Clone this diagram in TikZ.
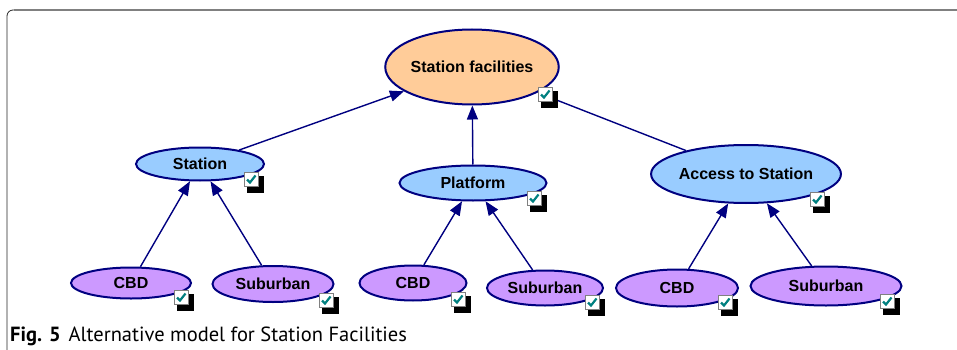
\documentclass[tikz,border=0pt]{standalone}
\usepackage{fontspec}
\setmainfont{Liberation Sans}
\newfontfamily\capfont{PT Sans}
\usetikzlibrary{shapes.geometric,arrows.meta}
\definecolor{navy}{RGB}{0,0,128}
\definecolor{peach}{RGB}{255,204,153}
\definecolor{skyblue}{RGB}{153,204,255}
\definecolor{lilac}{RGB}{204,153,255}
\definecolor{tickgreen}{RGB}{0,128,128}
\tikzset{
  goal/.style={ellipse, draw=navy, line width=2pt, inner sep=0pt,
    font=\fontsize{16}{18}\selectfont\bfseries},
  top/.style={goal, fill=peach},
  crit/.style={goal, fill=skyblue},
  alt/.style={goal, fill=lilac},
  link/.style={navy, line width=1.4pt, -{Triangle[length=14pt,width=11pt]}}
}
% small ticked checkbox with a black shadow, #1 = top left corner
\newcommand{\tickbox}[1]{
  \fill[black] ([shift={(3,4)}]#1) rectangle ++(17,17);
  \filldraw[fill=white, draw=gray, line width=0.6pt] (#1) rectangle ++(14,14);
  \draw[tickgreen, line width=2.2pt] ([shift={(3,7.5)}]#1) -- ++(3,3) -- ++(5.5,-7);
}

\begin{document}
\begin{tikzpicture}[x=1pt,y=-1pt]
\useasboundingbox (0,0) rectangle (957,350);
% frame
\draw[black!85, line width=0.8pt, rounded corners=6pt] (7,352) -- (7,10) -- (20,10);
\draw[gray, line width=1.2pt] (14,10) -- (957,10);

% goal
\node[top, minimum width=160pt, minimum height=75pt] (fac) at (472,67) {Station facilities};
% criteria
\node[crit, minimum width=128pt, minimum height=33pt] (stn) at (200,164) {Station};
\node[crit, minimum width=147pt, minimum height=35pt] (plat) at (473,183) {Platform};
\node[crit, minimum width=176pt, minimum height=58pt] (acc) at (746,174) {Access to Station};
% alternatives
\node[alt, minimum width=120pt, minimum height=31pt] (cbda) at (131,283) {CBD};
\node[alt, minimum width=121pt, minimum height=36pt] (suba) at (273,284) {Suburban};
\node[alt, minimum width=107pt, minimum height=35pt] (cbdb) at (413,283) {CBD};
\node[alt, minimum width=116pt, minimum height=35pt] (subb) at (545,288) {Suburban};
\node[alt, minimum width=122pt, minimum height=37pt] (cbdc) at (677,288) {CBD};
\node[alt, minimum width=151pt, minimum height=39pt] (subc) at (826,286) {Suburban};

% connectors
\draw[link] (stn) -- (fac);
\draw[link] (plat) -- (fac);
\draw[link] (acc) -- (fac);
\draw[link] (cbda) -- (stn);
\draw[link] (suba) -- (stn);
\draw[link] (cbdb) -- (plat);
\draw[link] (subb) -- (plat);
\draw[link] (cbdc) -- (acc);
\draw[link] (subc) -- (acc);

% check boxes
\tickbox{538,87}
\tickbox{244,172}
\tickbox{527,191}
\tickbox{810,192}
\tickbox{174,290}
\tickbox{319,293}
\tickbox{451,292}
\tickbox{585,295}
\tickbox{718,295}
\tickbox{880,294}

% caption
\node[anchor=base west, inner sep=0pt, font=\capfont\fontsize{20.5}{22}\selectfont] (cap) at (10,341)
  {\textbf{Fig. 5}\hspace{8pt}Alternative model for Station Facilities};
\end{tikzpicture}
\end{document}
